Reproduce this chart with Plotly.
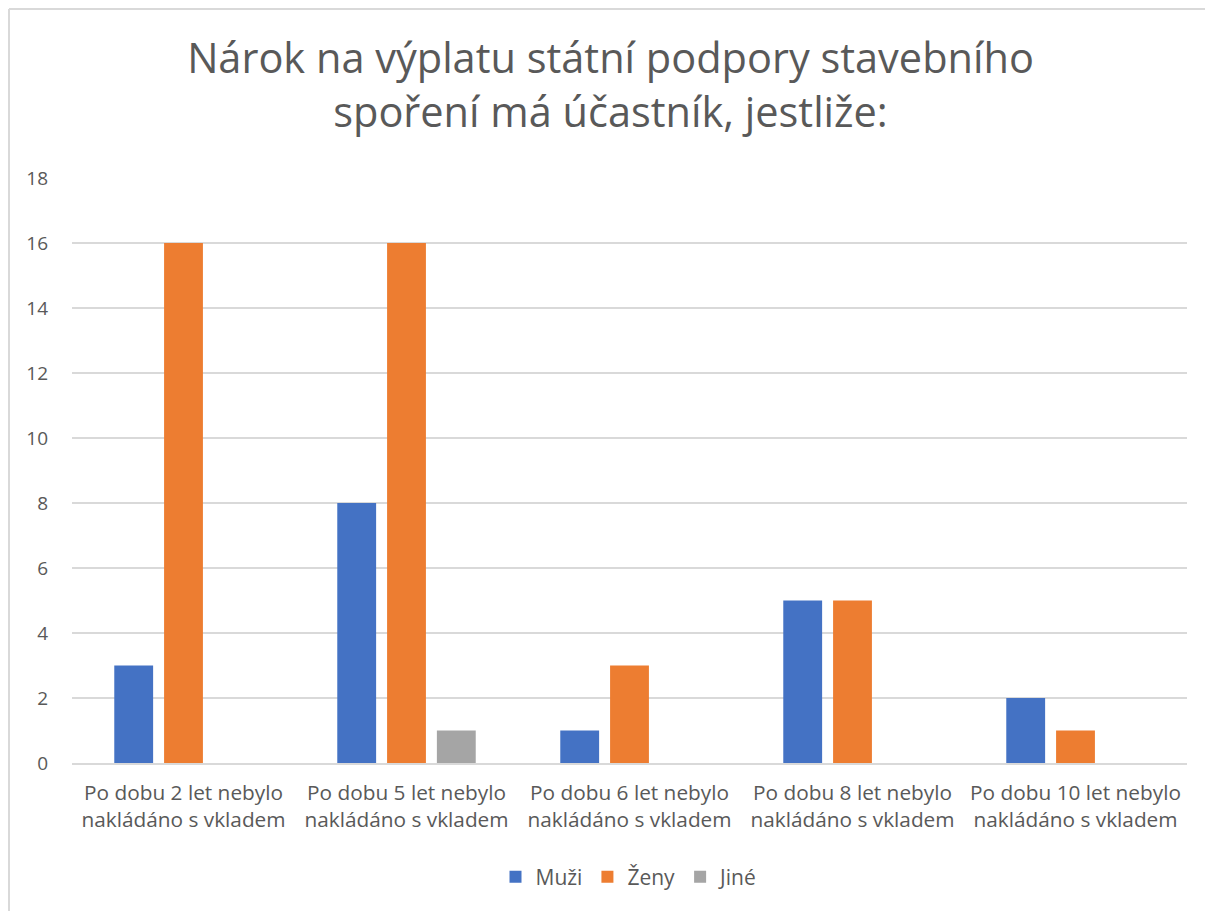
import plotly.graph_objects as go

categories = [
    "Po dobu 2 let nebylo<br>nakládáno s vkladem",
    "Po dobu 5 let nebylo<br>nakládáno s vkladem",
    "Po dobu 6 let nebylo<br>nakládáno s vkladem",
    "Po dobu 8 let nebylo<br>nakládáno s vkladem",
    "Po dobu 10 let nebylo<br>nakládáno s vkladem",
]
muzi = [3, 8, 1, 5, 2]
zeny = [16, 16, 3, 5, 1]
jine = [0, 1, 0, 0, 0]
series_names = ["Muži", "Ženy", "Jiné"]
colors = ["#4472C4", "#ED7D31", "#A5A5A5"]

# the page body has an 8px margin; figure pixel = page pixel - 8
W, H = 1205, 903
L, R, T, B = 64, 26, 170, 148
pw, ph = W - L - R, H - T - B

fig = go.Figure()
for name, vals, c in zip(series_names, [muzi, zeny, jine], colors):
    fig.add_trace(go.Bar(x=categories, y=vals, name=name, marker_color=c,
                         marker_line_width=0))

font = "'Open Sans', sans-serif"
fig.update_layout(
    width=W, height=H,
    margin=dict(l=L, r=R, t=T, b=B),
    paper_bgcolor="white", plot_bgcolor="white",
    barmode="group", bargap=0.33, bargroupgap=0.22,
    font=dict(family=font, color="#595959"),
    title=dict(text="Nárok na výplatu státní podpory stavebního<br>spoření má účastník, jestliže:",
               x=0.5, xanchor="center", xref="container",
               y=1 - 65 / H, yanchor="middle", yref="container",
               font=dict(size=41.5, color="#595959", family=font)),
    xaxis=dict(showgrid=False, showline=True, linecolor="#D9D9D9", linewidth=1.5,
               tickfont=dict(size=20.8, color="#595959"), ticks="",
               ticklabelstandoff=10),
    yaxis=dict(range=[0, 18], dtick=2, showgrid=True, gridcolor="#D9D9D9", gridwidth=1.5,
               zeroline=False, tickfont=dict(size=19, color="#595959"), ticks="",
               ticklabelstandoff=23),
    legend=dict(orientation="h", x=0.5, xanchor="center", y=(755 - 869) / ph,
                yanchor="middle", font=dict(size=21, color="#595959"),
                itemwidth=30, traceorder="normal"),
    shapes=[
        dict(type="line", xref="paper", yref="paper",
             x0=(1 - L) / pw, x1=(W - L) / pw, y0=(755 - 1) / ph, y1=(755 - 1) / ph,
             line=dict(color="#D9D9D9", width=2), layer="below"),
        dict(type="line", xref="paper", yref="paper",
             x0=(1 - L) / pw, x1=(1 - L) / pw, y0=(755 - 1) / ph, y1=(755 - H) / ph,
             line=dict(color="#D9D9D9", width=2), layer="below"),
    ],
)
fig.write_html("out.html")
